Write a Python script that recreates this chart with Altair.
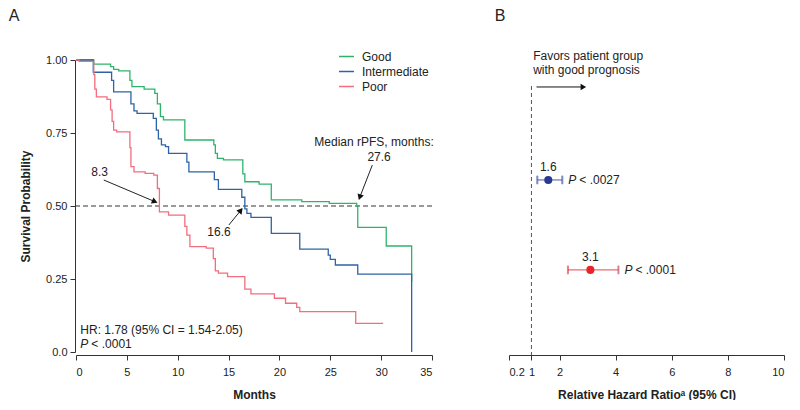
import altair as alt
import pandas as pd

FONT = "Liberation Sans"
INK = "#222222"

# ---------------- Panel A: Kaplan-Meier curves ----------------
groups_a = ["Good", "Intermediate", "Poor"]
colors_a = ["#2fb36c", "#2e63a6", "#f26d7d"]

good_t = [0, 1.75, 3.4, 3.7, 4.2, 5.3, 5.5, 6.7, 7.75, 8.0, 8.3, 8.6, 10.7, 13.55, 13.7,
          13.9, 14.5, 16.4, 16.6, 18.0, 19.2, 22.2, 24.9, 27.6, 27.7, 30.5, 33.0]
good_s = [1.0, 0.986, 0.977, 0.968, 0.963, 0.93, 0.909, 0.90, 0.886, 0.85, 0.806, 0.795, 0.726, 0.709, 0.68,
          0.663, 0.658, 0.61, 0.583, 0.575, 0.521, 0.515, 0.509, 0.50, 0.427, 0.363, 0.241]

int_t = [0, 1.7, 3.5, 3.7, 5.4, 5.7, 6.0, 7.6, 7.9, 8.1, 8.4, 8.8, 9.1, 10.9, 11.1, 13.6, 14.0,
         16.3, 16.6, 16.8, 17.2, 19.2, 22.0, 24.8, 25.0, 25.5, 27.7, 33.0]
int_s = [1.0, 0.958, 0.93, 0.891, 0.85, 0.826, 0.817, 0.80, 0.76, 0.73, 0.709, 0.703, 0.68, 0.65, 0.617, 0.59, 0.557,
         0.53, 0.49, 0.475, 0.461, 0.406, 0.352, 0.332, 0.317, 0.298, 0.267, 0.0]

poor_t = [0, 0.3, 1.75, 1.85, 2.0, 3.05, 3.4, 3.55, 3.7, 4.0, 5.3, 5.4, 5.7, 6.8, 7.65, 8.0, 8.2,
          9.1, 10.7, 10.9, 11.2, 12.8, 13.5, 13.7, 14.0, 14.9, 16.6, 17.2, 19.5, 20.6, 21.7, 22.0, 27.5, 30.2]
poor_s = [1.0, 0.995, 0.95, 0.90, 0.874, 0.865, 0.829, 0.79, 0.76, 0.754, 0.70, 0.635, 0.617, 0.612, 0.606, 0.56, 0.48,
          0.469, 0.43, 0.40, 0.361, 0.356, 0.32, 0.278, 0.27, 0.258, 0.215, 0.199, 0.184, 0.167, 0.153, 0.138, 0.098, 0.098]

# annotations (data coordinates: months, survival)
ann_text = ["8.3", "16.6", "Median rPFS, months:", "27.6"]
ann_x = [2.33, 14.06, 29.3, 29.8]
ann_y = [0.617, 0.412, 0.718, 0.667]

arr_x = [2.73, 15.03, 29.13]
arr_y = [0.589, 0.435, 0.640]
arr_x2 = [7.75, 16.2, 27.9]
arr_y2 = [0.515, 0.485, 0.53]
arr_angle = [23.6, 308.5, 109.2]

hr_text = "HR: 1.78 (95% CI = 1.54-2.05)"
p_text_a = "< .0001"

rows = []
for g, ts, ss in zip(groups_a, [good_t, int_t, poor_t], [good_s, int_s, poor_s]):
    for i, (t, s) in enumerate(zip(ts, ss)):
        rows.append({"group": g, "t": t, "s": s, "ord": i})
km = pd.DataFrame(rows)

ann_df = pd.DataFrame({"label": ann_text, "x": ann_x, "y": ann_y})
arr_df = pd.DataFrame({"x": arr_x, "y": arr_y, "x2": arr_x2, "y2": arr_y2, "ang": arr_angle})


def XA(field):
    return alt.X(field, type="quantitative",
                 scale=alt.Scale(domain=[0, 35], nice=False, zero=False),
                 axis=alt.Axis(values=list(range(0, 36, 5)), title="Months", offset=3,
                               labelPadding=6, titlePadding=12))


def YA(field):
    return alt.Y(field, type="quantitative",
                 scale=alt.Scale(domain=[0, 1], nice=False),
                 axis=alt.Axis(values=[0, 0.25, 0.5, 0.75, 1.0], title="Survival Probability",
                               labelExpr="datum.value == 0 ? '0.0' : format(datum.value, '.2f')",
                               labelPadding=3, titlePadding=13, offset=1))


lines = alt.Chart(km).mark_line(interpolate="step-after", strokeWidth=1.3).encode(
    x=XA("t"), y=YA("s"),
    order="ord:Q",
    color=alt.Color("group:N", scale=alt.Scale(domain=groups_a, range=colors_a),
                    legend=alt.Legend(orient="none", legendX=262, legendY=-12, title=None,
                                      symbolType="stroke", symbolSize=225, symbolStrokeWidth=1.5,
                                      labelFontSize=12, rowPadding=0, labelOffset=7)),
)

median_rule = alt.Chart(pd.DataFrame({"m": [0.5]})).mark_rule(
    strokeDash=[5, 3], color="#333", strokeWidth=1).encode(y=YA("m"))

ann = alt.Chart(ann_df).mark_text(fontSize=12, align="center", baseline="middle").encode(
    x=XA("x"), y=YA("y"), text="label:N")

arrows = alt.Chart(arr_df).mark_rule(color="#222", strokeWidth=1).encode(
    x=XA("x"), y=YA("y"), x2="x2", y2="y2")

heads = alt.Chart(arr_df).mark_point(shape="triangle-right", filled=True, size=45,
                                     color="#111", opacity=1).encode(
    x=XA("x2"), y=YA("y2"), angle=alt.Angle("ang:Q", scale=None))

stat_df = pd.DataFrame({"x": [0.43], "y1": [0.075], "y2": [0.027], "hr": [hr_text], "p": [p_text_a]})
hr_lab = alt.Chart(stat_df).mark_text(fontSize=12, align="left", baseline="middle").encode(
    x=XA("x"), y=YA("y1"), text="hr:N")
p_it = alt.Chart(stat_df).mark_text(fontSize=12, align="left", baseline="middle",
                                    fontStyle="italic").encode(
    x=XA("x"), y=YA("y2"), text=alt.value("P"))
p_rest = alt.Chart(stat_df).mark_text(fontSize=12, align="left", baseline="middle", dx=11).encode(
    x=XA("x"), y=YA("y2"), text="p:N")

lab_a = alt.Chart(pd.DataFrame({"l": ["A"]})).mark_text(
    fontSize=16, align="center", baseline="middle").encode(
    x=alt.value(-62), y=alt.value(-44), text="l:N")

panel_a = alt.layer(median_rule, lines, arrows, heads, ann, hr_lab, p_it, p_rest, lab_a).properties(
    width=356, height=292)

# ---------------- Panel B: forest plot ----------------
groups_b = ["2 (intermediate)", "3-5 (poor)"]
colors_b = ["#2b3990", "#e8232b"]
ci_colors_b = ["#4a57a6", "#e8454b"]
hr_vals = [1.6, 3.1]
hr_lo = [1.21, 2.3]
hr_hi = [2.1, 4.1]
p_vals = ["< .0027", "< .0001"]
row_idx = [1, 2]

fp = pd.DataFrame({"group": groups_b, "hr": hr_vals, "lo": hr_lo, "hi": hr_hi,
                   "p": p_vals, "row": row_idx, "lab": [f"{v:.1f}" for v in hr_vals]})

fav_text = ["Favors patient group", "with good prognosis"]
fav_x = [1.06, 1.06]
fav_y = [-0.38, -0.22]
fav_df = pd.DataFrame({"t": fav_text, "x": fav_x, "y": fav_y})

ref_df = pd.DataFrame({"x": [1.0], "y": [-0.045], "y2": [2.95]})
fav_arrow = pd.DataFrame({"x": [1.18], "x2": [2.85], "y": [-0.034], "ang": [0.0]})


def XB(field):
    return alt.X(field, type="quantitative",
                 scale=alt.Scale(domain=[0.2, 10], nice=False, zero=False),
                 axis=alt.Axis(values=[0.2, 1, 2, 4, 6, 8, 10],
                               labelExpr="datum.value < 1 ? format(datum.value, '.1f') : format(datum.value, 'd')",
                               labelOverlap=False, labelBound=False,
                               title="Relative Hazard Ratioᵃ (95% CI)", offset=3,
                               labelPadding=6, titlePadding=12))


def YB(field):
    return alt.Y(field, type="quantitative",
                 scale=alt.Scale(domain=[-0.334, 2.913], nice=False, zero=False, reverse=True),
                 axis=None)


ref_line = alt.Chart(ref_df).mark_rule(strokeDash=[4, 3], color="#555", strokeWidth=1).encode(
    x=XB("x"), y=YB("y"), y2="y2")

fav_line = alt.Chart(fav_arrow).mark_rule(color="#111", strokeWidth=1).encode(
    x=XB("x"), x2="x2", y=YB("y"))
fav_head = alt.Chart(fav_arrow).mark_point(shape="triangle-right", filled=True, size=40,
                                           color="#111", opacity=1).encode(
    x=XB("x2"), y=YB("y"), angle=alt.Angle("ang:Q", scale=None))
fav_lab = alt.Chart(fav_df).mark_text(fontSize=12, align="left", baseline="middle").encode(
    x=XB("x"), y=YB("y"), text="t:N")

ci = alt.Chart(fp).mark_rule(strokeWidth=1).encode(
    x=XB("lo"), x2="hi", y=YB("row"),
    stroke=alt.Stroke("group:N", scale=alt.Scale(domain=groups_b, range=ci_colors_b), legend=None))
cap_lo = alt.Chart(fp).mark_tick(orient="vertical", size=8, thickness=1).encode(
    x=XB("lo"), y=YB("row"),
    stroke=alt.Stroke("group:N", scale=alt.Scale(domain=groups_b, range=ci_colors_b), legend=None))
cap_hi = alt.Chart(fp).mark_tick(orient="vertical", size=8, thickness=1).encode(
    x=XB("hi"), y=YB("row"),
    stroke=alt.Stroke("group:N", scale=alt.Scale(domain=groups_b, range=ci_colors_b), legend=None))

pts = alt.Chart(fp).mark_circle(size=65, opacity=1).encode(
    x=XB("hr"), y=YB("row"),
    color=alt.Color("group:N", scale=alt.Scale(domain=groups_b, range=colors_b),
                    legend=alt.Legend(orient="none", legendX=128, legendY=47,
                                      title="Number of risk factors", titleFontWeight="normal",
                                      titleFontSize=12, labelFontSize=12, symbolSize=65,
                                      rowPadding=3, labelOffset=6, titlePadding=4)))

val_lab = alt.Chart(fp).mark_text(fontSize=12, align="center", baseline="middle", dy=-13).encode(
    x=XB("hr"), y=YB("row"), text="lab:N")
pb_it = alt.Chart(fp).mark_text(fontSize=12, align="left", baseline="middle", dx=6,
                                fontStyle="italic").encode(
    x=XB("hi"), y=YB("row"), text=alt.value("P"))
pb_rest = alt.Chart(fp).mark_text(fontSize=12, align="left", baseline="middle", dx=17).encode(
    x=XB("hi"), y=YB("row"), text="p:N")

lab_b = alt.Chart(pd.DataFrame({"l": ["B"]})).mark_text(
    fontSize=16, align="center", baseline="middle").encode(
    x=alt.value(-9), y=alt.value(-44), text="l:N")

panel_b = alt.layer(ref_line, fav_line, fav_head, fav_lab, ci, cap_lo, cap_hi, pts,
                    val_lab, pb_it, pb_rest, lab_b).properties(width=275, height=292)

chart = alt.hconcat(panel_a, panel_b, spacing=60).resolve_scale(
    color="independent", stroke="independent").properties(
    padding={"left": 0, "top": 0, "right": 0, "bottom": 0}
).configure_view(stroke=None).configure_axis(
    grid=False, labelFont=FONT, titleFont=FONT, labelFontSize=11, titleFontSize=12,
    titleFontWeight="bold", domainColor="#333", tickColor="#333", labelColor=INK,
    titleColor=INK, tickSize=5
).configure_text(font=FONT, color=INK).configure_legend(
    labelFont=FONT, titleFont=FONT, labelColor=INK, titleColor=INK
)

chart.save("out.html", embed_options={"renderer": "svg", "actions": False})
